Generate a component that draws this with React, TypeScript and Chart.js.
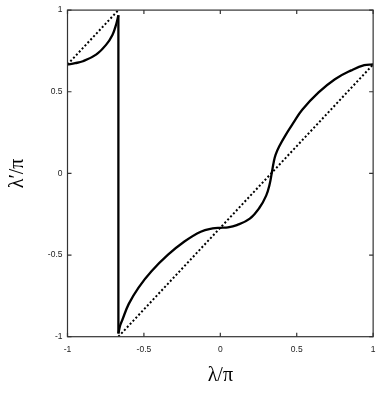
import { useEffect, useRef } from "react";
import { Chart, registerables } from "chart.js";

Chart.register(...registerables);

// Solid curve, left branch (λ/π -> λ'/π)
const leftLambda = [-1, -0.95, -0.899, -0.813, -0.748, -0.706, -0.68, -0.667];
const leftWarped = [0.667, 0.675, 0.687, 0.727, 0.787, 0.848, 0.918, 0.968];

// Vertical jump
const jumpLambda = [-0.667, -0.667];
const jumpWarped = [0.968, -0.98];

// Solid curve, right branch
const rightLambda = [
  -0.667, -0.655, -0.642, -0.599, -0.535, -0.449, -0.342, -0.235, -0.128, -0.05, 0.0, 0.05,
  0.108, 0.193, 0.257, 0.3, 0.322, 0.337, 0.35, 0.362, 0.385, 0.429, 0.482, 0.536, 0.643,
  0.75, 0.857, 0.942, 1,
];
const rightWarped = [
  -0.98, -0.93, -0.899, -0.799, -0.699, -0.598, -0.498, -0.417, -0.357, -0.337, -0.333,
  -0.331, -0.317, -0.277, -0.209, -0.136, -0.07, 0.004, 0.072, 0.115, 0.165, 0.238, 0.315,
  0.39, 0.496, 0.577, 0.631, 0.663, 0.667,
];

// Dotted reference line (two segments)
const refLambdaA = [-1, -0.667];
const refWarpedA = [0.667, 1];
const refLambdaB = [-0.667, 1];
const refWarpedB = [-1, 0.667];

const xTickLabels = ["-1", "-0.5", "0", "0.5", "1"];
const yTickLabels = ["-1", "-0.5", "0", "0.5", "1"];
const tickValues = [-1, -0.5, 0, 0.5, 1];

const toPts = (xs: number[], ys: number[]) => xs.map((x, i) => ({ x, y: ys[i] }));

const framePlugin = {
  id: "frame",
  afterDraw(chart: any) {
    const { ctx, chartArea: a, scales } = chart;
    ctx.save();
    ctx.strokeStyle = "#333";
    ctx.lineWidth = 1.2;
    ctx.strokeRect(a.left, a.top, a.right - a.left, a.bottom - a.top);
    const len = 4;
    ctx.beginPath();
    scales.x.ticks.forEach((t: any) => {
      const px = scales.x.getPixelForValue(t.value);
      ctx.moveTo(px, a.bottom);
      ctx.lineTo(px, a.bottom - len);
      ctx.moveTo(px, a.top);
      ctx.lineTo(px, a.top + len);
    });
    scales.y.ticks.forEach((t: any) => {
      const py = scales.y.getPixelForValue(t.value);
      ctx.moveTo(a.left, py);
      ctx.lineTo(a.left + len, py);
      ctx.moveTo(a.right, py);
      ctx.lineTo(a.right - len, py);
    });
    ctx.stroke();
    ctx.restore();
  },
};

export default function App() {
  const ref = useRef<HTMLCanvasElement>(null);
  useEffect(() => {
    document.body.style.margin = "0";
    const tickFont = { family: "Liberation Sans", size: 8.5 };
    const titleFont = { family: "Liberation Serif", size: 20 };
    const chart = new Chart(ref.current!, {
      type: "scatter",
      data: {
        datasets: [
          {
            data: toPts(refLambdaA, refWarpedA),
            showLine: true,
            borderColor: "#000",
            borderWidth: 2,
            borderDash: [2, 2.2],
            pointRadius: 0,
          },
          {
            data: toPts(refLambdaB, refWarpedB),
            showLine: true,
            borderColor: "#000",
            borderWidth: 2,
            borderDash: [2, 2.2],
            pointRadius: 0,
          },
          {
            data: toPts(leftLambda, leftWarped),
            showLine: true,
            borderColor: "#000",
            borderWidth: 2.3,
            pointRadius: 0,
            tension: 0.4,
          },
          {
            data: toPts(jumpLambda, jumpWarped),
            showLine: true,
            borderColor: "#000",
            borderWidth: 2.3,
            pointRadius: 0,
          },
          {
            data: toPts(rightLambda, rightWarped),
            showLine: true,
            borderColor: "#000",
            borderWidth: 2.3,
            pointRadius: 0,
            tension: 0.4,
          },
        ],
      },
      options: {
        responsive: false,
        animation: false,
        layout: { padding: { top: 4.7, right: 4, left: 0, bottom: 0 } },
        plugins: { legend: { display: false }, tooltip: { enabled: false } },
        scales: {
          x: {
            type: "linear",
            min: -1,
            max: 1,
            afterBuildTicks: (s: any) => {
              s.ticks = tickValues.map((v) => ({ value: v }));
            },
            ticks: {
              font: tickFont,
              color: "#222",
              padding: 7.5,
              maxRotation: 0,
              callback: (v: any) => xTickLabels[tickValues.indexOf(Number(v))] ?? "",
            },
            grid: { display: false, drawTicks: false },
            border: { display: false },
            title: {
              display: true,
              text: "λ/π",
              font: titleFont,
              color: "#000",
              padding: { top: 0, bottom: 5 },
            },
            afterFit: (s: any) => {
              s.height = 56.3;
            },
          },
          y: {
            type: "linear",
            min: -1,
            max: 1,
            afterBuildTicks: (s: any) => {
              s.ticks = tickValues.map((v) => ({ value: v }));
            },
            ticks: {
              font: tickFont,
              color: "#222",
              padding: 5,
              callback: (v: any) => yTickLabels[tickValues.indexOf(Number(v))] ?? "",
            },
            grid: { display: false, drawTicks: false },
            border: { display: false },
            title: {
              display: true,
              text: "λ′/π",
              font: titleFont,
              color: "#000",
              padding: { top: 6, bottom: 0 },
            },
            afterFit: (s: any) => {
              s.width = 67.5;
            },
          },
        },
      },
      plugins: [framePlugin],
    });
    return () => chart.destroy();
  }, []);
  return (
    <div style={{ width: 383, height: 393 }}>
      <canvas ref={ref} width={383} height={393} />
    </div>
  );
}
